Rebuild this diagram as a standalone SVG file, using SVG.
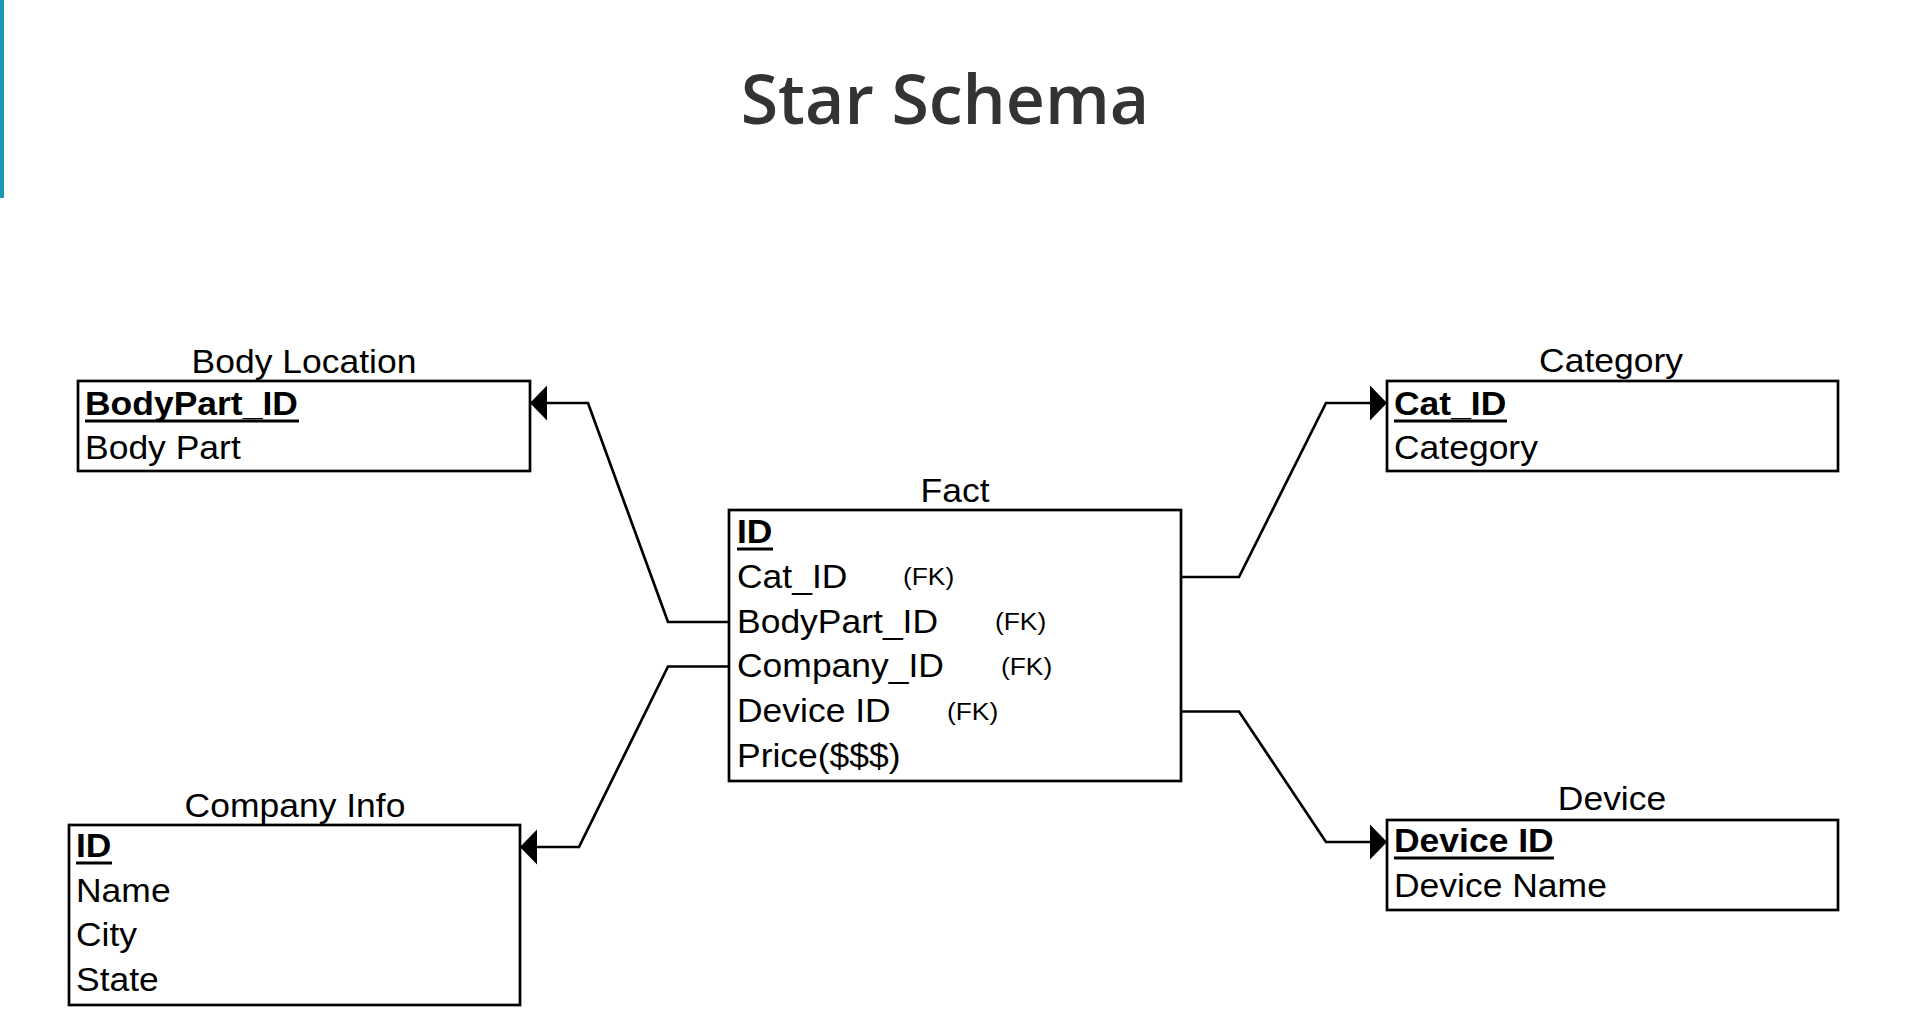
<svg xmlns="http://www.w3.org/2000/svg" width="1911" height="1009" viewBox="0 0 1911 1009">
<style>
.box{fill:#fff;stroke:#000;stroke-width:2.7}
.t{font-family:"Liberation Sans",Arial,sans-serif;font-size:33px;fill:#000}
.k{font-weight:bold}
.ul{stroke:#000;stroke-width:3}
.lbl{text-anchor:middle}
.fk{font-family:"Liberation Sans",Arial,sans-serif;font-size:24.5px;fill:#000}
.conn{fill:none;stroke:#000;stroke-width:2.7;stroke-linejoin:miter}
.title{font-family:"Open Sans","Noto Sans",sans-serif;font-weight:600;font-size:68px;fill:#333;text-anchor:middle}
</style>
<defs>
<marker id="arr" markerUnits="userSpaceOnUse" markerWidth="18" markerHeight="36" viewBox="0 0 18 36" refX="17" refY="17.5" orient="auto">
<path d="M0,0 L17,17.5 L0,35 Z" fill="#000"/>
</marker>
</defs>
<rect width="1911" height="1009" fill="#fff"/>
<rect x="0" y="0" width="4" height="198" fill="#1a98b0"/>
<text class="title" x="945" y="124">Star Schema</text>

<g id="connectors">
<path class="conn" d="M729,622 H668 L588,403 H530" marker-end="url(#arr)"/>
<path class="conn" d="M729,666.5 H668 L579,847 H520" marker-end="url(#arr)"/>
<path class="conn" d="M1181,577 H1239 L1326,403 H1387" marker-end="url(#arr)"/>
<path class="conn" d="M1181,711.5 H1239 L1326,842 H1387" marker-end="url(#arr)"/>
</g>

<g id="body-location">
<text class="t lbl" transform="translate(304,373) scale(1.075,1)">Body Location</text>
<rect class="box" x="78" y="381" width="452" height="90"/>
<text class="t k" transform="translate(85,415) scale(1.075,1)">BodyPart_ID</text>
<line class="ul" x1="85" y1="421" x2="299" y2="421"/>
<text class="t" transform="translate(85,458.5) scale(1.075,1)">Body Part</text>
</g>

<g id="company-info">
<text class="t lbl" transform="translate(295,817) scale(1.075,1)">Company Info</text>
<rect class="box" x="69" y="825" width="451" height="180"/>
<text class="t k" transform="translate(76,857) scale(1.075,1)">ID</text>
<line class="ul" x1="76" y1="863" x2="112" y2="863"/>
<text class="t" transform="translate(76,901.7) scale(1.075,1)">Name</text>
<text class="t" transform="translate(76,946.3) scale(1.075,1)">City</text>
<text class="t" transform="translate(76,991) scale(1.075,1)">State</text>
</g>

<g id="fact">
<text class="t lbl" transform="translate(955,502) scale(1.075,1)">Fact</text>
<rect class="box" x="729" y="510" width="452" height="271"/>
<text class="t k" transform="translate(737,543) scale(1.075,1)">ID</text>
<line class="ul" x1="737" y1="549" x2="773" y2="549"/>
<text class="t" transform="translate(737,587.8) scale(1.075,1)">Cat_ID</text>
<text class="fk" transform="translate(903,585) scale(1.075,1)">(FK)</text>
<text class="t" transform="translate(737,632.6) scale(1.075,1)">BodyPart_ID</text>
<text class="fk" transform="translate(995,630) scale(1.075,1)">(FK)</text>
<text class="t" transform="translate(737,677.4) scale(1.075,1)">Company_ID</text>
<text class="fk" transform="translate(1001,675) scale(1.075,1)">(FK)</text>
<text class="t" transform="translate(737,722.2) scale(1.075,1)">Device ID</text>
<text class="fk" transform="translate(947,720) scale(1.075,1)">(FK)</text>
<text class="t" transform="translate(737,767) scale(1.075,1)">Price($$$)</text>
</g>

<g id="category">
<text class="t lbl" transform="translate(1611,372) scale(1.075,1)">Category</text>
<rect class="box" x="1387" y="381" width="451" height="90"/>
<text class="t k" transform="translate(1394,415) scale(1.075,1)">Cat_ID</text>
<line class="ul" x1="1394" y1="421" x2="1507" y2="421"/>
<text class="t" transform="translate(1394,458.5) scale(1.075,1)">Category</text>
</g>

<g id="device">
<text class="t lbl" transform="translate(1612,810) scale(1.075,1)">Device</text>
<rect class="box" x="1387" y="820" width="451" height="90"/>
<text class="t k" transform="translate(1394,852) scale(1.075,1)">Device ID</text>
<line class="ul" x1="1394" y1="858" x2="1554" y2="858"/>
<text class="t" transform="translate(1394,896.5) scale(1.075,1)">Device Name</text>
</g>
</svg>
